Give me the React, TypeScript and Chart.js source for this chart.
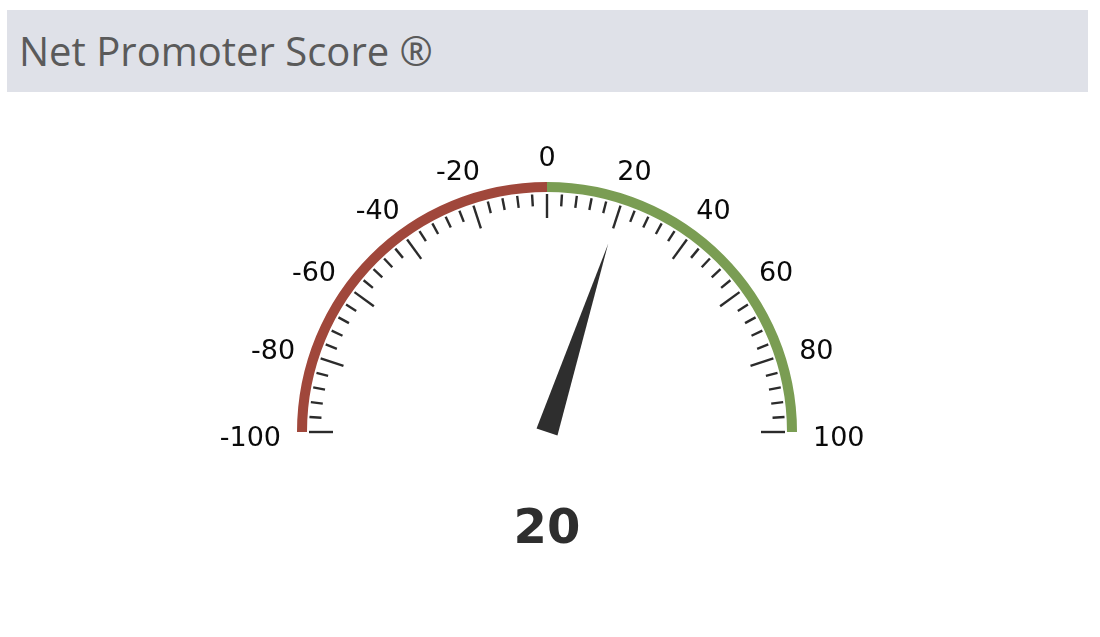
import React, { useEffect, useRef } from "react";
import { Chart, registerables } from "chart.js";

Chart.register(...registerables);

// scale and data
const scaleMin = -100;
const scaleMax = 100;
const bandNames = ["Detractors", "Promoters"];
const bandEnds = [0, 100];
const bandColors = ["#a0473b", "#7a9d53"];
const majorTicks = [-100, -80, -60, -40, -20, 0, 20, 40, 60, 80, 100];
const tickLabels = ["-100", "-80", "-60", "-40", "-20", "0", "20", "40", "60", "80", "100"];
const minorStep = 4;
const npsValue = 20;

const bandSizes = bandEnds.map((end, i) => end - (i === 0 ? scaleMin : bandEnds[i - 1]));

const toAngle = (v: number) => Math.PI + ((v - scaleMin) / (scaleMax - scaleMin)) * Math.PI;

const gaugePlugin = {
  id: "gaugeExtras",
  afterDatasetsDraw(chart: any) {
    const arc: any = chart.getDatasetMeta(0).data[0];
    if (!arc) return;
    const ctx: CanvasRenderingContext2D = chart.ctx;
    const cx = arc.x;
    const cy = arc.y;
    const outer = arc.outerRadius;

    ctx.save();
    // ticks
    ctx.strokeStyle = "#2b2b2b";
    ctx.lineWidth = 2.4;
    for (let v = scaleMin; v <= scaleMax; v += minorStep) {
      const a = toAngle(v);
      const isMajor = majorTicks.includes(v);
      const r1 = outer - 12;
      const r2 = isMajor ? outer - 36 : outer - 24;
      ctx.beginPath();
      ctx.moveTo(cx + r1 * Math.cos(a), cy + r1 * Math.sin(a));
      ctx.lineTo(cx + r2 * Math.cos(a), cy + r2 * Math.sin(a));
      ctx.stroke();
    }

    // labels
    ctx.font = "27px 'DejaVu Sans'";
    ctx.fillStyle = "#0a0a0a";
    ctx.textAlign = "center";
    ctx.textBaseline = "alphabetic";
    const capH = 19.5;
    majorTicks.forEach((v, i) => {
      const a = toAngle(v);
      const r = outer + 16;
      const px = cx + r * Math.cos(a);
      const py = cy + r * Math.sin(a);
      const w = ctx.measureText(tickLabels[i]).width;
      const x = px + (Math.cos(a) * w) / 2;
      const y = py + (Math.sin(a) * capH) / 2 + (1 + Math.sin(a)) * 4 + capH / 2;
      ctx.fillText(tickLabels[i], x, y);
    });

    // needle
    const na = toAngle(npsValue);
    const tipR = 198;
    const half = 11;
    ctx.fillStyle = "#2e2e2e";
    ctx.beginPath();
    ctx.moveTo(cx + tipR * Math.cos(na), cy + tipR * Math.sin(na));
    ctx.lineTo(cx + half * Math.cos(na + Math.PI / 2), cy + half * Math.sin(na + Math.PI / 2));
    ctx.lineTo(cx + half * Math.cos(na - Math.PI / 2), cy + half * Math.sin(na - Math.PI / 2));
    ctx.closePath();
    ctx.fill();

    // value
    ctx.font = "bold 48px 'DejaVu Sans'";
    ctx.fillStyle = "#2e2e2e";
    ctx.textAlign = "center";
    ctx.fillText(String(npsValue), cx, cy + 111);
    ctx.restore();
  },
};

const NpsGauge: React.FC = () => {
  const canvasRef = useRef<HTMLCanvasElement>(null);
  const chartRef = useRef<Chart | null>(null);

  useEffect(() => {
    if (!canvasRef.current) return;
    if (chartRef.current) chartRef.current.destroy();
    chartRef.current = new Chart(canvasRef.current, {
      type: "doughnut",
      data: {
        labels: bandNames,
        datasets: [
          {
            data: bandSizes,
            backgroundColor: bandColors,
            borderWidth: 0,
          },
        ],
      },
      options: {
        animation: false,
        responsive: true,
        maintainAspectRatio: false,
        rotation: -90,
        circumference: 180,
        cutout: "96%",
        layout: { padding: { left: 297, right: 303, top: 182, bottom: 205 } },
        plugins: {
          legend: { display: false },
          tooltip: { enabled: false },
        },
      } as any,
      plugins: [gaugePlugin],
    });
    return () => {
      if (chartRef.current) {
        chartRef.current.destroy();
        chartRef.current = null;
      }
    };
  }, []);

  return (
    <div style={{ position: "fixed", left: 0, top: 0, width: 1100, height: 637 }}>
      <canvas ref={canvasRef} />
    </div>
  );
};

export default function App() {
  return (
    <>
      <div
        style={{
          position: "fixed",
          left: 7,
          top: 10,
          width: 1081,
          height: 82,
          boxSizing: "border-box",
          background: "#dfe1e8",
          paddingLeft: 12,
          lineHeight: "82px",
          fontFamily: "'Open Sans', sans-serif",
          fontSize: 40,
          color: "#5a5a5a",
          whiteSpace: "nowrap",
        }}
      >
        Net Promoter Score ®
      </div>
      <NpsGauge />
    </>
  );
}
